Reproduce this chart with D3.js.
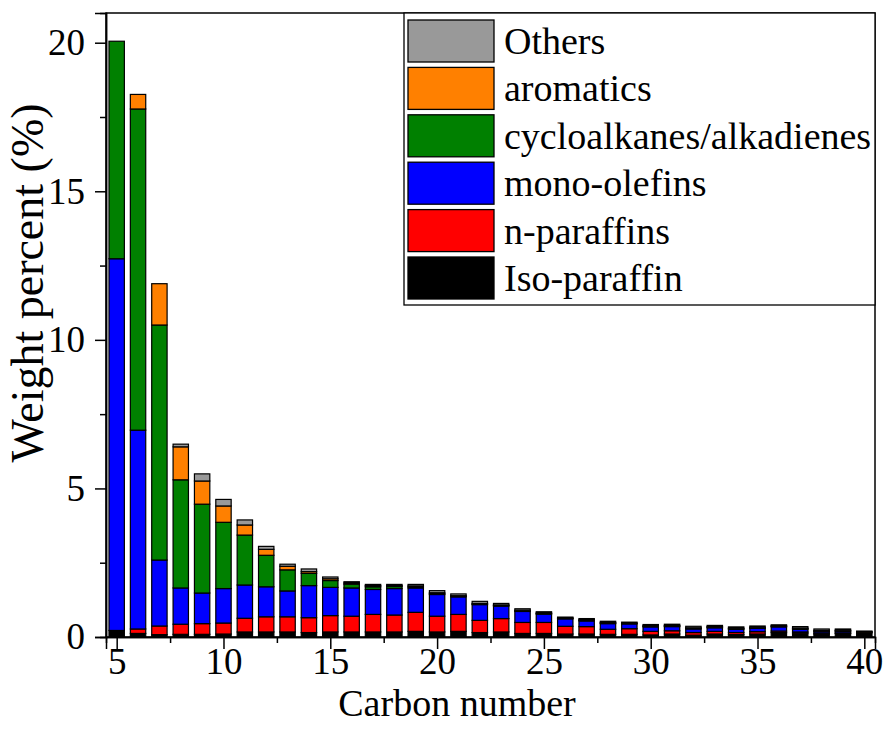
<!DOCTYPE html>
<html>
<head>
<meta charset="utf-8">
<script src="https://cdn.jsdelivr.net/npm/d3@7/dist/d3.min.js"></script>
<style>
  html, body { margin: 0; padding: 0; background: #fff; }
  svg { display: block; }
  text { font-family: "Liberation Serif", "Times New Roman", serif; fill: #000; }
</style>
</head>
<body>
<svg id="chart" width="884" height="732"></svg>
<script>
// Carbon number distribution of the liquid product, wt% by compound class
const carbons = d3.range(5, 41);

const isoParaffin = [0.22,0.12,0.08,0.09,0.09,0.10,0.17,0.17,0.17,0.15,0.17,0.17,0.17,0.17,0.19,0.17,0.19,0.15,0.17,0.12,0.12,0.10,0.10,0.09,0.09,0.07,0.10,0.06,0.10,0.08,0.10,0.15,0.13,0.10,0.12,0.14];
const nParaffins  = [0.00,0.15,0.29,0.34,0.36,0.37,0.46,0.51,0.51,0.50,0.55,0.53,0.59,0.57,0.64,0.53,0.57,0.41,0.45,0.37,0.37,0.26,0.25,0.17,0.19,0.12,0.11,0.09,0.09,0.07,0.08,0.05,0.04,0.03,0.02,0.00];
const monoOlefins = [12.51,6.69,2.22,1.22,1.03,1.16,1.12,1.01,0.87,1.08,0.95,0.95,0.84,0.89,0.82,0.73,0.59,0.53,0.42,0.37,0.28,0.25,0.19,0.19,0.16,0.15,0.14,0.12,0.12,0.11,0.11,0.14,0.09,0.05,0.05,0.00];
const cycloAlka   = [7.32,10.81,7.91,3.64,2.99,2.23,1.68,1.06,0.71,0.41,0.23,0.13,0.09,0.07,0.04,0.03,0.02,0.02,0.02,0.02,0.02,0.02,0.02,0.02,0.02,0.02,0.02,0.02,0.02,0.02,0.02,0.02,0.02,0.02,0.02,0.02];
const aromatics   = [0.00,0.49,1.39,1.11,0.78,0.55,0.34,0.20,0.12,0.06,0.06,0.04,0.04,0.03,0.03,0.03,0.02,0.02,0.02,0.02,0.02,0.01,0.02,0.02,0.01,0.02,0.02,0.02,0.02,0.02,0.02,0.02,0.02,0.02,0.02,0.02];
const others      = [0.00,0.00,0.00,0.09,0.24,0.22,0.17,0.10,0.07,0.09,0.06,0.04,0.04,0.04,0.05,0.07,0.06,0.07,0.05,0.05,0.04,0.03,0.04,0.04,0.03,0.04,0.04,0.05,0.04,0.04,0.04,0.03,0.05,0.05,0.04,0.02];

const seriesNames  = ["Iso-paraffin", "n-paraffins", "mono-olefins", "cycloalkanes/alkadienes", "aromatics", "Others"];
const seriesValues = [isoParaffin, nParaffins, monoOlefins, cycloAlka, aromatics, others];
const seriesColors = ["#000000", "#ff0000", "#0000ff", "#008000", "#ff8000", "#999999"];

const xMajorTicks = [5, 10, 15, 20, 25, 30, 35, 40];
const xMinorTicks = [7.5, 12.5, 17.5, 22.5, 27.5, 32.5, 37.5];
const yMajorTicks = [0, 5, 10, 15, 20];
const yMinorTicks = [2.5, 7.5, 12.5, 17.5];

const svg = d3.select("#chart");
const plot = { left: 106, right: 875, top: 13, bottom: 637 };

const x = d3.scaleLinear().domain([4.5, 40.5]).range([plot.left, plot.right]);
const y = d3.scaleLinear().domain([0, 21]).range([plot.bottom, plot.top]);
const barW = (x(6) - x(5)) * 0.72;

// One row per carbon number, classes stacked bottom to top
const rows = carbons.map((c, i) => {
  const r = { c };
  seriesNames.forEach((n, k) => { r[n] = seriesValues[k][i]; });
  return r;
});
const stacked = d3.stack().keys(seriesNames)(rows);

const bars = svg.append("g");
stacked.forEach((layer, k) => {
  bars.append("g")
    .attr("fill", seriesColors[k])
    .selectAll("rect")
    .data(layer)
    .join("rect")
      .attr("x", d => x(d.data.c) - barW / 2)
      .attr("y", d => y(d[1]))
      .attr("width", barW)
      .attr("height", d => Math.max(0, y(d[0]) - y(d[1])))
      .attr("stroke", "#000")
      .attr("stroke-width", 1.2);
});

// Frame
svg.append("rect")
  .attr("x", plot.left).attr("y", plot.top)
  .attr("width", plot.right - plot.left).attr("height", plot.bottom - plot.top)
  .attr("fill", "none").attr("stroke", "#000").attr("stroke-width", 1.5);

// Axes with major and minor ticks pointing outward
const xAxis = svg.append("g").attr("transform", `translate(0,${plot.bottom})`)
  .call(d3.axisBottom(x).tickValues(xMajorTicks).tickSize(12).tickPadding(6).tickFormat(d3.format("d")));
svg.append("g").attr("transform", `translate(0,${plot.bottom})`)
  .call(d3.axisBottom(x).tickValues(xMinorTicks).tickSize(6).tickFormat(""));
const yAxis = svg.append("g").attr("transform", `translate(${plot.left},0)`)
  .call(d3.axisLeft(y).tickValues(yMajorTicks).tickSize(11).tickPadding(10).tickFormat(d3.format("d")));
svg.append("g").attr("transform", `translate(${plot.left},0)`)
  .call(d3.axisLeft(y).tickValues(yMinorTicks).tickSize(6).tickFormat(""));

svg.selectAll(".domain").attr("stroke", "#000").attr("stroke-width", 1.5);
svg.selectAll(".tick line").attr("stroke", "#000").attr("stroke-width", 1.5);
svg.selectAll(".tick text")
  .attr("font-family", "'Liberation Serif', 'Times New Roman', serif")
  .attr("font-size", 37).attr("fill", "#000");
xAxis.selectAll(".tick text").attr("dy", "0.52em");

// Axis titles
svg.append("text")
  .attr("x", 457).attr("y", 716)
  .attr("text-anchor", "middle").attr("font-size", 38)
  .text("Carbon number");
svg.append("text")
  .attr("transform", "translate(43,283) rotate(-90)")
  .attr("text-anchor", "middle").attr("font-size", 46)
  .text("Weight percent (%)");

// Legend
const legend = svg.append("g");
legend.append("rect")
  .attr("x", 404).attr("y", plot.top)
  .attr("width", plot.right - 404).attr("height", 305 - plot.top)
  .attr("fill", "#fff").attr("stroke", "#000").attr("stroke-width", 1.3);
const legendOrder = d3.range(seriesNames.length).reverse();
legendOrder.forEach((k, row) => {
  const top = 20 + row * 47.4;
  legend.append("rect")
    .attr("x", 408).attr("y", top).attr("width", 86).attr("height", 42)
    .attr("fill", seriesColors[k]).attr("stroke", "#000").attr("stroke-width", 1.3);
  legend.append("text")
    .attr("x", 504).attr("y", top + 34)
    .attr("font-size", 38)
    .text(seriesNames[k]);
});
</script>
</body>
</html>
